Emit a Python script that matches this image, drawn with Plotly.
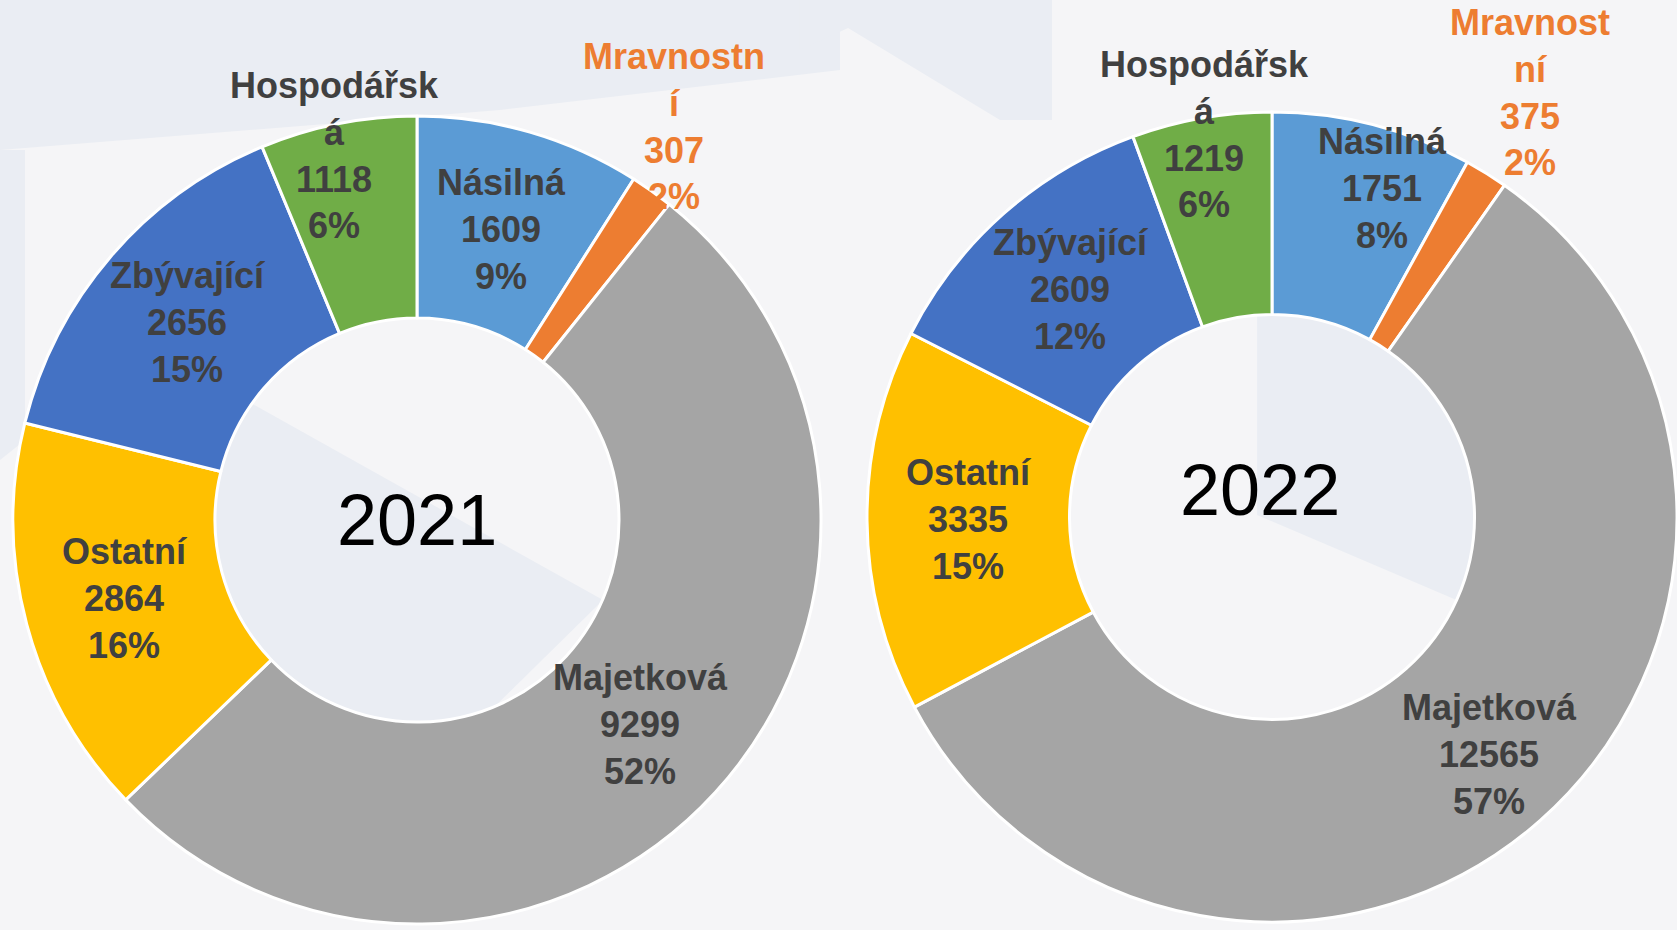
import math
import plotly.graph_objects as go

W, H = 1677, 930

categories = ["Násilná", "Mravnostní", "Majetková", "Ostatní", "Zbývající", "Hospodářská"]
values_2021 = [1609, 307, 9299, 2864, 2656, 1118]
values_2022 = [1751, 375, 12565, 3335, 2609, 1219]

# category names as they wrap in the original slide
label_text_2021 = ["Násilná", "Mravnostn<br>í", "Majetková", "Ostatní", "Zbývající", "Hospodářsk<br>á"]
label_text_2022 = ["Násilná", "Mravnost<br>ní", "Majetková", "Ostatní", "Zbývající", "Hospodářsk<br>á"]

colors = ["#5B9BD5", "#ED7D31", "#A5A5A5", "#FFC000", "#4472C4", "#70AD47"]
label_colors = ["#404040", "#ED7D31", "#404040", "#404040", "#404040", "#404040"]

# label placement: radius as fraction of outer radius, and angle nudge in degrees
label_r_2021 = [0.75, 1.164, 0.75, 0.75, 0.75, 0.926]
label_da_2021 = [0, -2.4, 0, 0, 0, -1.5]
label_r_2022 = [0.857, 1.227, 0.795, 0.75, 0.75, 0.96]
label_da_2022 = [4.2, -0.7, -1.1, 0, 0, 0]

HOLE = 0.5

charts = [
    dict(year="2021", values=values_2021, text=label_text_2021, rpos=label_r_2021, dang=label_da_2021,
         cx=417, cy=520, r=404, year_dx=0, year_dy=0),
    dict(year="2022", values=values_2022, text=label_text_2022, rpos=label_r_2022, dang=label_da_2022,
         cx=1272, cy=517, r=405, year_dx=-12, year_dy=-27),
]

fig = go.Figure()
annotations = []

for ch in charts:
    cx, cy, r = ch["cx"], ch["cy"], ch["r"]
    fig.add_trace(go.Pie(
        labels=categories,
        values=ch["values"],
        hole=HOLE,
        sort=False,
        direction="clockwise",
        rotation=0,
        marker=dict(colors=colors, line=dict(color="white", width=3)),
        textinfo="none",
        hoverinfo="label+value+percent",
        showlegend=False,
        domain=dict(x=[(cx - r) / W, (cx + r) / W], y=[1 - (cy + r) / H, 1 - (cy - r) / H]),
        name=ch["year"],
    ))

    # slice labels at each slice's mid angle
    total = sum(ch["values"])
    cum = 0
    for i, v in enumerate(ch["values"]):
        ang = 2 * math.pi * (cum + v / 2) / total + math.radians(ch["dang"][i])
        cum += v
        rr = ch["rpos"][i] * r
        px = cx + rr * math.sin(ang)
        py = cy - rr * math.cos(ang)
        pct = round(100 * v / total)
        annotations.append(dict(
            x=px / W, y=1 - py / H, xref="paper", yref="paper",
            text=f"<b>{ch['text'][i]}<br>{v}<br>{pct}%</b>",
            showarrow=False, xanchor="center", yanchor="middle", align="center",
            font=dict(family="Liberation Sans, Arial", size=36, color=label_colors[i]),
        ))

    annotations.append(dict(
        x=(cx + ch["year_dx"]) / W, y=1 - (cy + ch["year_dy"]) / H, xref="paper", yref="paper",
        text=ch["year"], showarrow=False, xanchor="center", yanchor="middle",
        font=dict(family="Liberation Sans, Arial", size=72, color="black"),
    ))

# faint background facets of the slide template (pixel coords)
bg_polys = [
    [(0, 0), (840, 0), (840, 70), (500, 110), (0, 150)],
    [(0, 150), (25, 150), (25, 440), (0, 460)],
    [(120, 330), (603, 600), (420, 780), (120, 620)],
    [(800, 0), (1052, 0), (1052, 120), (1000, 120), (848, 28), (800, 50)],
    [(1257, 300), (1480, 300), (1480, 610), (1257, 515)],
]
shapes = []
for poly in bg_polys:
    path = " ".join(
        f"{'M' if k == 0 else 'L'} {x / W:.4f} {1 - y / H:.4f}" for k, (x, y) in enumerate(poly)
    ) + " Z"
    shapes.append(dict(type="path", path=path, xref="paper", yref="paper",
                       line=dict(width=0), fillcolor="#EAEDF3", layer="below"))

fig.update_layout(
    width=W,
    height=H,
    margin=dict(l=0, r=0, t=0, b=0),
    paper_bgcolor="#F5F5F7",
    plot_bgcolor="#F5F5F7",
    annotations=annotations,
    shapes=shapes,
    font=dict(family="Liberation Sans, Arial"),
)

fig.write_html("out.html", config={"displayModeBar": False},
               post_script="document.body.style.margin='0';")
